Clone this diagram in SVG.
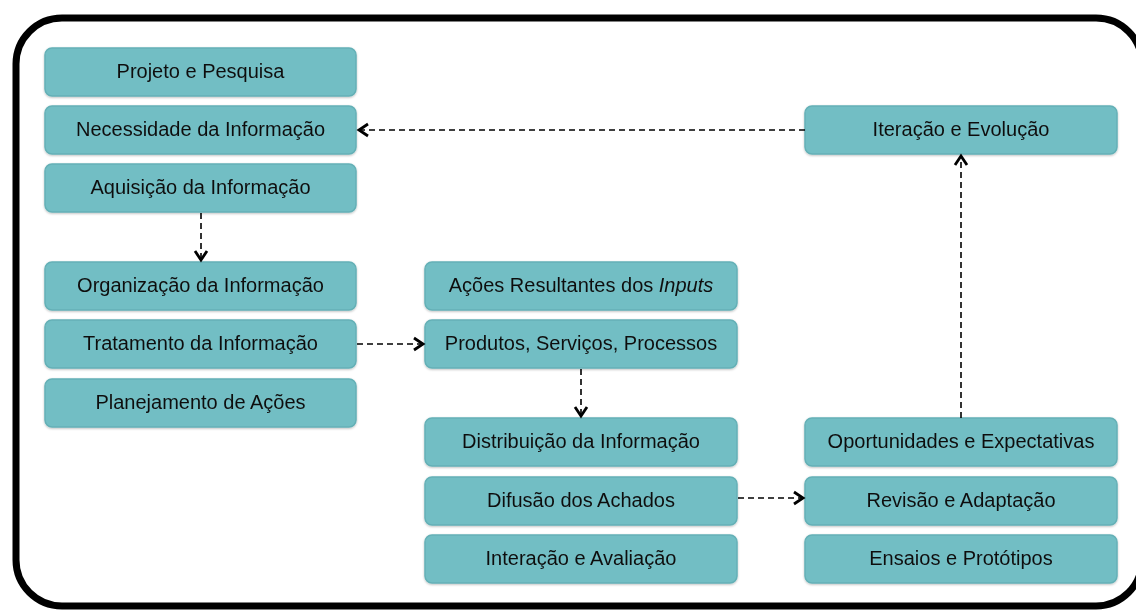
<svg xmlns="http://www.w3.org/2000/svg" width="1136" height="610" viewBox="0 0 1136 610">
<defs>
<style>
.box{fill:#72bec4;stroke:#64b0b6;stroke-width:1.5}
.lbl{font-family:"Liberation Sans",Arial,sans-serif;font-size:20px;fill:#111;text-anchor:middle}
.con{fill:none;stroke:#000;stroke-width:1.6;stroke-dasharray:6 4}
</style>
<marker id="ah" viewBox="0 0 16 16" refX="13" refY="8" markerWidth="16" markerHeight="16" markerUnits="userSpaceOnUse" orient="auto">
<path d="M4,2 L13,8 L4,14" fill="none" stroke="#000" stroke-width="2.8"/>
</marker>
<filter id="sh" x="-5%" y="-10%" width="110%" height="130%">
<feDropShadow dx="0" dy="1" stdDeviation="1" flood-color="#000" flood-opacity="0.25"/>
</filter>
</defs>
<rect width="1136" height="610" fill="#fff"/>
<rect id="frame" x="16" y="18" width="1126" height="588" rx="46" ry="46" fill="none" stroke="#000" stroke-width="7"/>
<g id="n1" filter="url(#sh)"><rect class="box" x="45" y="48" width="311" height="48" rx="7"/><text class="lbl" x="200.5" y="78">Projeto e Pesquisa</text></g>
<g id="n2" filter="url(#sh)"><rect class="box" x="45" y="106" width="311" height="48" rx="7"/><text class="lbl" x="200.5" y="136">Necessidade da Informação</text></g>
<g id="n3" filter="url(#sh)"><rect class="box" x="45" y="164" width="311" height="48" rx="7"/><text class="lbl" x="200.5" y="194">Aquisição da Informação</text></g>
<g id="n4" filter="url(#sh)"><rect class="box" x="45" y="262" width="311" height="48" rx="7"/><text class="lbl" x="200.5" y="292">Organização da Informação</text></g>
<g id="n5" filter="url(#sh)"><rect class="box" x="45" y="320" width="311" height="48" rx="7"/><text class="lbl" x="200.5" y="350">Tratamento da Informação</text></g>
<g id="n6" filter="url(#sh)"><rect class="box" x="45" y="379" width="311" height="48" rx="7"/><text class="lbl" x="200.5" y="409">Planejamento de Ações</text></g>
<g id="n7" filter="url(#sh)"><rect class="box" x="425" y="262" width="312" height="48" rx="7"/><text class="lbl" x="581" y="292">Ações Resultantes dos <tspan font-style="italic">Inputs</tspan></text></g>
<g id="n8" filter="url(#sh)"><rect class="box" x="425" y="320" width="312" height="48" rx="7"/><text class="lbl" x="581" y="350">Produtos, Serviços, Processos</text></g>
<g id="n9" filter="url(#sh)"><rect class="box" x="425" y="418" width="312" height="48" rx="7"/><text class="lbl" x="581" y="448">Distribuição da Informação</text></g>
<g id="n10" filter="url(#sh)"><rect class="box" x="425" y="477" width="312" height="48" rx="7"/><text class="lbl" x="581" y="507">Difusão dos Achados</text></g>
<g id="n11" filter="url(#sh)"><rect class="box" x="425" y="535" width="312" height="48" rx="7"/><text class="lbl" x="581" y="565">Interação e Avaliação</text></g>
<g id="n12" filter="url(#sh)"><rect class="box" x="805" y="106" width="312" height="48" rx="7"/><text class="lbl" x="961" y="136">Iteração e Evolução</text></g>
<g id="n13" filter="url(#sh)"><rect class="box" x="805" y="418" width="312" height="48" rx="7"/><text class="lbl" x="961" y="448">Oportunidades e Expectativas</text></g>
<g id="n14" filter="url(#sh)"><rect class="box" x="805" y="477" width="312" height="48" rx="7"/><text class="lbl" x="961" y="507">Revisão e Adaptação</text></g>
<g id="n15" filter="url(#sh)"><rect class="box" x="805" y="535" width="312" height="48" rx="7"/><text class="lbl" x="961" y="565">Ensaios e Protótipos</text></g>
<g id="connectors">
<path class="con" d="M805,130 L359,130" marker-end="url(#ah)"/>
<path class="con" d="M201,213 L201,260" marker-end="url(#ah)"/>
<path class="con" d="M357,344 L423,344" marker-end="url(#ah)"/>
<path class="con" d="M581,369 L581,416" marker-end="url(#ah)"/>
<path class="con" d="M738,498 L803,498" marker-end="url(#ah)"/>
<path class="con" d="M961,418 L961,156" marker-end="url(#ah)"/>
</g>
</svg>
